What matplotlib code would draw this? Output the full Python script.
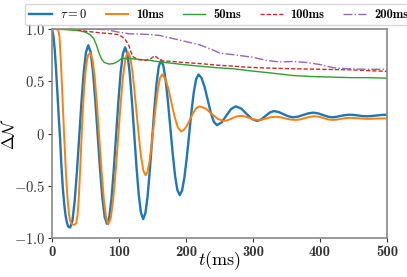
import matplotlib
matplotlib.use("Agg")
import matplotlib.pyplot as plt

plt.rcParams['mathtext.fontset'] = 'cm'
plt.rcParams['font.family'] = 'cmb10'
plt.rcParams['axes.unicode_minus'] = False

# tau = 0
t_blue = [0, 2, 4, 6, 8, 10, 12, 14, 16, 18, 20, 22, 24, 27,
          30.4, 33.75, 37.1, 40.5, 43.9, 47.25, 50.6, 54,
          57.5, 61, 64.5, 68, 71.5, 75, 78.5, 82,
          85.4, 88.75, 92.1, 95.5, 98.9, 102.25, 105.6, 109,
          112.4, 115.75, 119.1, 122.5, 125.9, 129.25, 132.6, 136,
          139.3, 142.6, 145.9, 149.25, 152.6, 155.9, 159.2, 162.5,
          166, 169.5, 173, 176.5, 180, 183.5, 187, 190.5,
          194, 197.5, 201, 204.5, 208, 211.5, 215, 218.5,
          223, 227.7, 232.25, 236.8, 241.4, 246,
          253, 260, 267, 274, 282, 290, 298, 306,
          312, 318.5, 325, 331, 338, 345.5, 353, 360,
          367.5, 375, 382.5, 390, 397, 404, 411, 418,
          424, 430.5, 437, 443, 450, 456.5, 463, 470,
          478, 485, 492, 500]
v_blue = [1.0, 0.93, 0.80, 0.60, 0.38, 0.15, -0.06, -0.32, -0.52, -0.67, -0.78, -0.85, -0.89, -0.90,
          -0.834, -0.645, -0.361, -0.028, 0.306, 0.590, 0.779, 0.845,
          0.780, 0.595, 0.317, -0.01, -0.337, -0.615, -0.800, -0.865,
          -0.801, -0.618, -0.343, -0.02, 0.303, 0.578, 0.761, 0.825,
          0.762, 0.585, 0.317, 0.003, -0.312, -0.580, -0.757, -0.82,
          -0.762, -0.598, -0.350, -0.06, 0.230, 0.478, 0.642, 0.70,
          0.651, 0.512, 0.301, 0.055, -0.191, -0.402, -0.541, -0.59,
          -0.546, -0.421, -0.233, -0.013, 0.208, 0.396, 0.521, 0.565,
          0.533, 0.444, 0.323, 0.201, 0.112, 0.08,
          0.106, 0.17, 0.234, 0.26, 0.24, 0.19, 0.14, 0.12,
          0.134, 0.168, 0.201, 0.215, 0.206, 0.185, 0.164, 0.155,
          0.162, 0.178, 0.193, 0.20, 0.193, 0.178, 0.162, 0.155,
          0.159, 0.168, 0.176, 0.18, 0.178, 0.173, 0.167, 0.165,
          0.168, 0.173, 0.178, 0.18]

# tau = 10ms
t_orange = [0, 5, 9, 11, 13, 15, 17, 19, 21, 23, 25, 27, 30, 33, 36,
            38, 40, 42, 44, 46, 48, 50, 52, 54, 57,
            60.4, 63.75, 67.1, 70.5, 73.9, 77.25, 80.6, 84,
            87.6, 91.25, 94.9, 98.5, 102.1, 105.75, 109.4, 113,
            116.3, 119.6, 122.9, 126.25, 129.6, 132.9, 136.2, 139.5,
            142.6, 145.6, 148.7, 151.75, 154.8, 157.9, 160.9, 164,
            168.75, 173.5, 178.25, 183, 187.75, 192.5,
            197, 201.7, 206.25, 210.8, 215.4, 220,
            229, 238, 247, 256, 262, 268.5, 275, 281,
            287.5, 294, 300.5, 307, 313.5, 320, 326.5, 333,
            340.5, 348, 355.5, 363, 370, 377.5, 385, 392,
            398.5, 405, 411.5, 418, 425, 431.5, 438, 445,
            457, 470, 485, 500]
v_orange = [1.0, 1.0, 0.995, 0.93, 0.70, 0.42, 0.12, -0.16, -0.42, -0.62, -0.76, -0.84, -0.87, -0.875, -0.86,
            -0.78, -0.60, -0.33, -0.03, 0.24, 0.45, 0.60, 0.70, 0.755, 0.77,
            0.708, 0.531, 0.263, -0.05, -0.363, -0.631, -0.808, -0.87,
            -0.807, -0.629, -0.36, -0.045, 0.27, 0.539, 0.717, 0.78,
            0.735, 0.608, 0.415, 0.19, -0.035, -0.228, -0.355, -0.40,
            -0.363, -0.259, -0.102, 0.083, 0.267, 0.424, 0.528, 0.565,
            0.528, 0.429, 0.293, 0.156, 0.057, 0.02,
            0.036, 0.08, 0.14, 0.20, 0.244, 0.26,
            0.24, 0.19, 0.14, 0.12, 0.127, 0.145, 0.163, 0.17,
            0.164, 0.15, 0.136, 0.13, 0.134, 0.145, 0.156, 0.16,
            0.156, 0.145, 0.134, 0.13, 0.135, 0.148, 0.16, 0.165,
            0.16, 0.148, 0.135, 0.13, 0.133, 0.14, 0.147, 0.15,
            0.145, 0.14, 0.143, 0.145]

# tau = 50ms
t_green = [0, 20, 40, 50, 57, 62, 66, 70, 74, 78, 85, 92, 98, 104, 120, 146, 162,
           196, 220, 246, 270, 296, 326, 360, 390, 420, 445, 470, 500]
v_green = [1.0, 0.995, 0.985, 0.97, 0.945, 0.91, 0.85, 0.77, 0.71, 0.68, 0.665, 0.67, 0.69, 0.72, 0.715, 0.70, 0.685,
           0.66, 0.645, 0.63, 0.62, 0.60, 0.58, 0.555, 0.545, 0.54, 0.535, 0.535, 0.53]

# tau = 100ms
t_red = [0, 30, 50, 70, 90, 100, 108, 114, 120, 127, 140, 147, 153, 158, 165, 180, 196,
         220, 246, 270, 296, 330, 360, 400, 445, 480, 500]
v_red = [1.0, 1.0, 0.98, 0.965, 0.955, 0.945, 0.91, 0.85, 0.74, 0.71, 0.70, 0.715, 0.745, 0.72, 0.695, 0.69, 0.68,
         0.67, 0.655, 0.645, 0.633, 0.625, 0.62, 0.615, 0.61, 0.60, 0.595]

# tau = 200ms
t_purple = [0, 60, 80, 100, 115, 140, 160, 180, 200, 220, 240, 250, 270, 300, 320, 340, 360,
            380, 400, 420, 440, 470, 500]
v_purple = [1.0, 1.0, 0.995, 0.97, 0.955, 0.95, 0.94, 0.91, 0.88, 0.85, 0.80, 0.77, 0.755, 0.73, 0.70, 0.685, 0.69,
            0.68, 0.66, 0.63, 0.62, 0.615, 0.615]

labels = [r'$\tau=0$', '10ms', '50ms', '100ms', '200ms']
xticks = [0, 100, 200, 300, 400, 500]
yticks = [-1.0, -0.5, 0, 0.5, 1.0]
ytick_labels = [r'$\mathbf{-1.0}$', r'$\mathbf{-0.5}$', r'$\mathbf{0}$', r'$\mathbf{0.5}$', r'$\mathbf{1.0}$']

fig = plt.figure(figsize=(4.07, 2.77), dpi=100)
ax = fig.add_axes([0.128, 0.141, 0.823, 0.754])

ax.plot(t_blue, v_blue, color='tab:blue', lw=1.7, label=labels[0])
ax.plot(t_orange, v_orange, color='tab:orange', lw=1.4, label=labels[1])
ax.plot(t_green, v_green, color='tab:green', lw=1.0, label=labels[2])
ax.plot(t_red, v_red, color='tab:red', lw=1.0, ls='--', dashes=(3, 1.5), label=labels[3])
ax.plot(t_purple, v_purple, color='tab:purple', lw=1.0, ls='-.', label=labels[4])

ax.set_xlim(0, 500)
ax.set_ylim(-1.0, 1.0)
ax.set_xticks(xticks)
ax.set_xticklabels([str(x) for x in xticks])
ax.set_yticks(yticks)
ax.set_yticklabels(ytick_labels)
ax.tick_params(labelsize=10.5, colors='#333333', length=3, pad=2)
for s in ax.spines.values():
    s.set_color('#888888')
    s.set_linewidth(1.2)

ax.set_xlabel(r'$t(\mathrm{ms})$', fontsize=13)
ax.xaxis.set_label_coords(0.5, -0.055)
ax.set_ylabel(r'$\Delta\mathcal{N}$', fontsize=12, labelpad=0)
ax.yaxis.set_label_coords(-0.105, 0.5)

leg = ax.legend(loc='lower center', bbox_to_anchor=(0.497, 1.0), ncol=5, fontsize=9,
                handlelength=1.8, columnspacing=1.5, borderaxespad=0.3, handletextpad=0.65,
                borderpad=0.35)

fig.savefig('out.png', dpi=100)
